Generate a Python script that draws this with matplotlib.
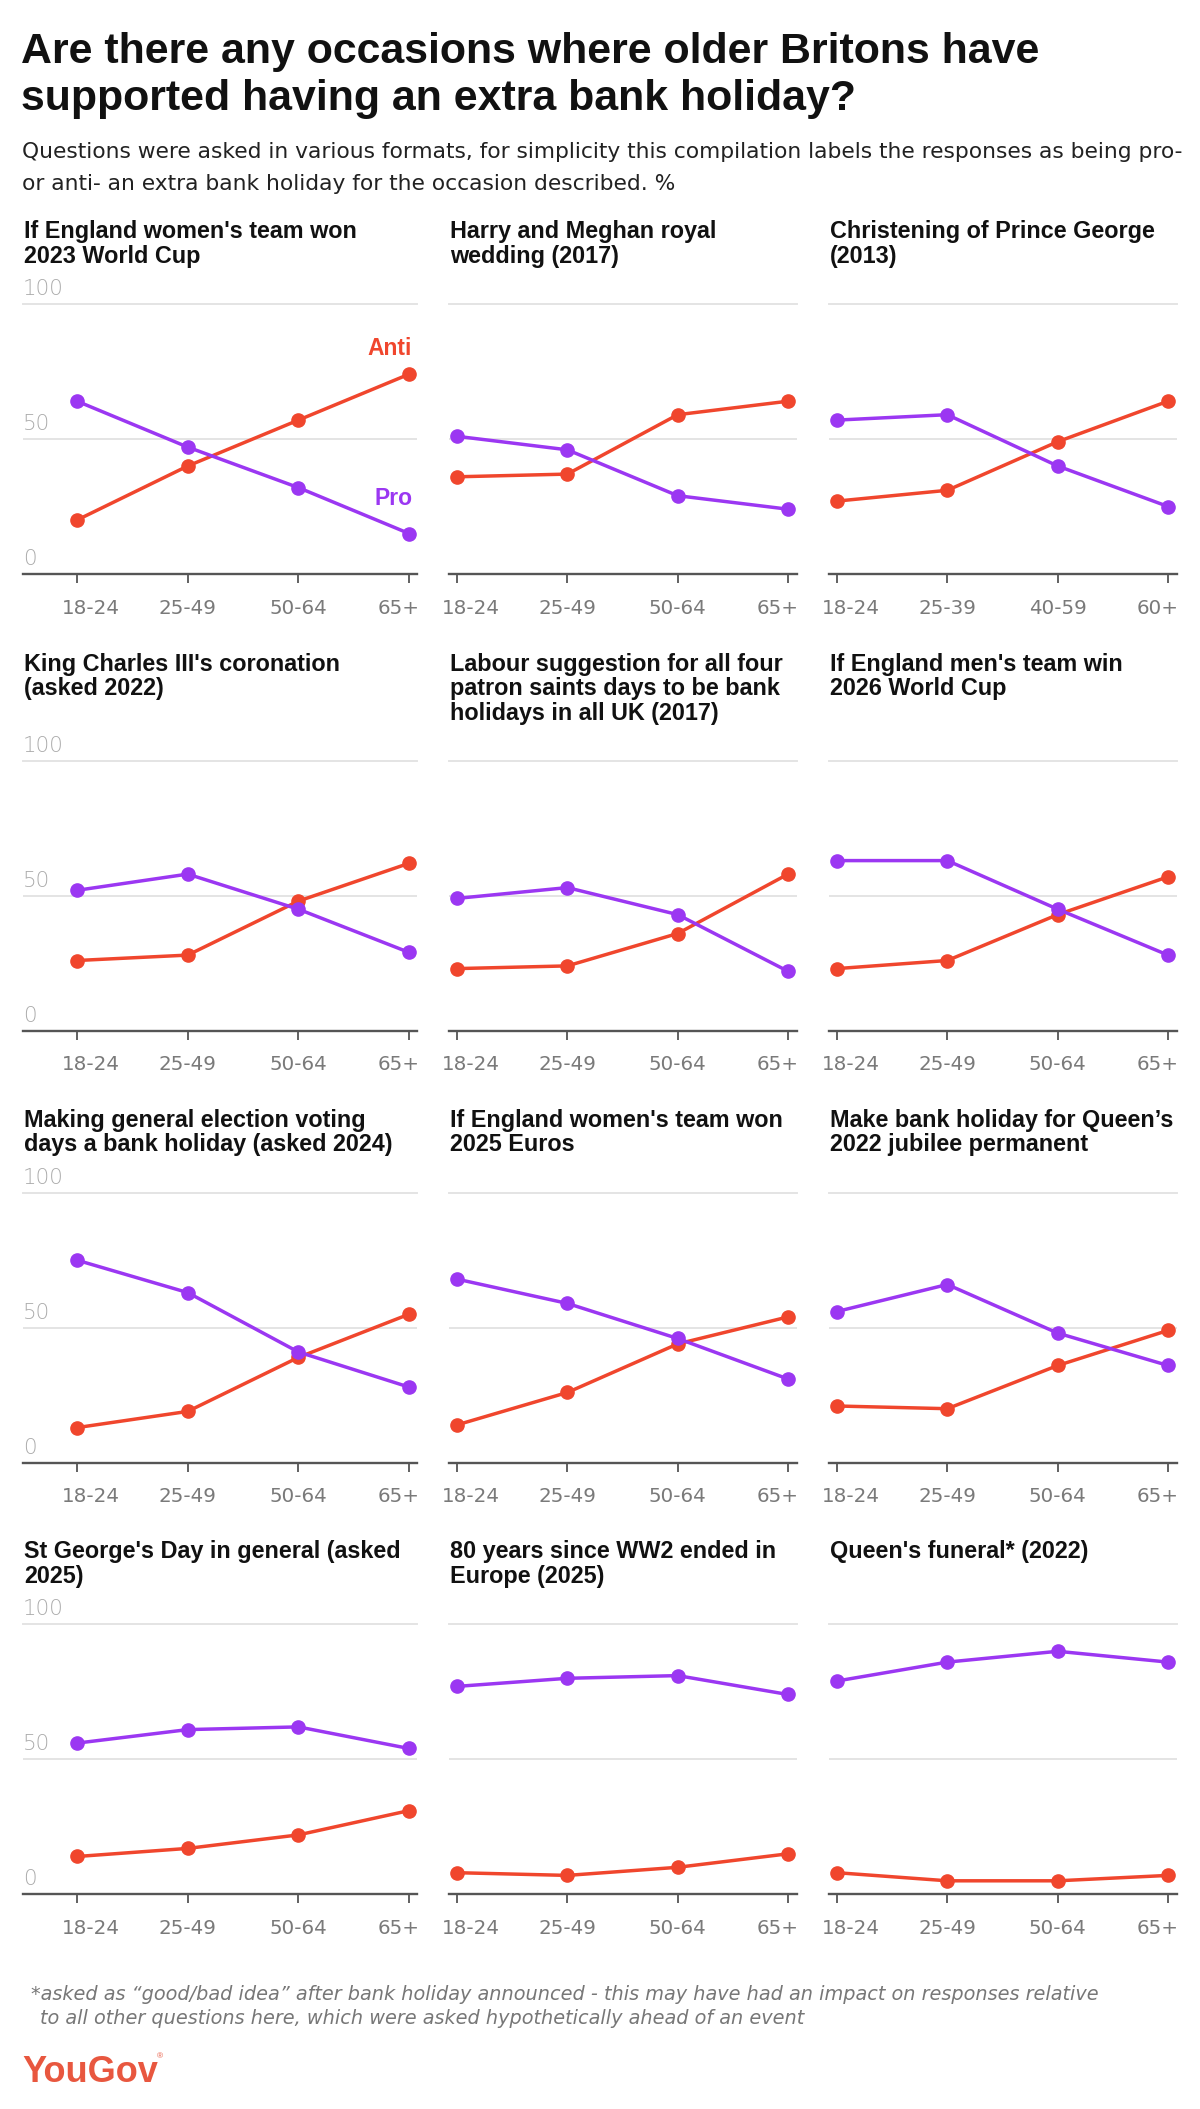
import matplotlib
matplotlib.use("Agg")
import matplotlib.pyplot as plt

W, H = 1200, 2109

panel_titles = [
    "If England women's team won\n2023 World Cup",
    "Harry and Meghan royal\nwedding (2017)",
    "Christening of Prince George\n(2013)",
    "King Charles III's coronation\n(asked 2022)",
    "Labour suggestion for all four\npatron saints days to be bank\nholidays in all UK (2017)",
    "If England men's team win\n2026 World Cup",
    "Making general election voting\ndays a bank holiday (asked 2024)",
    "If England women's team won\n2025 Euros",
    "Make bank holiday for Queen\u2019s\n2022 jubilee permanent",
    "St George's Day in general (asked\n2025)",
    "80 years since WW2 ended in\nEurope (2025)",
    "Queen's funeral* (2022)",
]
ages_default = ["18-24", "25-49", "50-64", "65+"]
ages_george = ["18-24", "25-39", "40-59", "60+"]
panel_ages = [ages_default, ages_default, ages_george] + [ages_default] * 9

pro_values = [
    [64, 47, 32, 15],
    [51, 46, 29, 24],
    [57, 59, 40, 25],
    [52, 58, 45, 29],
    [49, 53, 43, 22],
    [63, 63, 45, 28],
    [75, 63, 41, 28],
    [68, 59, 46, 31],
    [56, 66, 48, 36],
    [56, 61, 62, 54],
    [77, 80, 81, 74],
    [79, 86, 90, 86],
]
anti_values = [
    [20, 40, 57, 74],
    [36, 37, 59, 64],
    [27, 31, 49, 64],
    [26, 28, 48, 62],
    [23, 24, 36, 58],
    [23, 26, 43, 57],
    [13, 19, 39, 55],
    [14, 26, 44, 54],
    [21, 20, 36, 49],
    [14, 17, 22, 31],
    [8, 7, 10, 15],
    [8, 5, 5, 7],
]

RED = "#F0462D"
PURPLE = "#9B37F2"
GRID = "#E4E4E4"
AXIS = "#555555"
SANS = ["Liberation Sans", "DejaVu Sans"]
WIDE = ["DejaVu Sans"]

# layout in pixels
col_left = [23, 449, 829]
col_right = [417, 797, 1177]
col_xlim = [(-0.489, 3.072), (-0.072, 3.081), (-0.072, 3.081)]
grid_top = [304, 760.7, 1192.7, 1624.3]
title_base = [238.5, 670.7, 1126.7, 1558.3]
plot_h = 270
PT = 0.72  # px -> pt at 100 dpi

fig = plt.figure(figsize=(W / 100, H / 100), dpi=100)
fig.patch.set_facecolor("white")


def fy(y):
    return 1 - y / H


fig.text(21 / W, fy(63), "Are there any occasions where older Britons have",
         fontsize=30.9, weight="bold", family=SANS, color="#111111", va="baseline")
fig.text(21 / W, fy(110), "supported having an extra bank holiday?",
         fontsize=30.9, weight="bold", family=SANS, color="#111111", va="baseline")
fig.text(22 / W, fy(158), "Questions were asked in various formats, for simplicity this compilation "
         "labels the responses as being pro-",
         fontsize=15.7, family=WIDE, color="#222222", va="baseline")
fig.text(22 / W, fy(190), "or anti- an extra bank holiday for the occasion described. %",
         fontsize=15.7, family=WIDE, color="#222222", va="baseline")

for i, title in enumerate(panel_titles):
    row, col = divmod(i, 3)
    top = grid_top[row]
    ax = fig.add_axes([col_left[col] / W, fy(top + plot_h),
                       (col_right[col] - col_left[col]) / W, plot_h / H])
    ax.set_xlim(*col_xlim[col])
    ax.set_ylim(0, 100)
    for s in ("left", "right", "top"):
        ax.spines[s].set_visible(False)
    ax.spines["bottom"].set_color(AXIS)
    ax.spines["bottom"].set_linewidth(1.7)
    ax.axhline(50, color=GRID, lw=1.4, zorder=0)
    ax.axhline(100, color=GRID, lw=1.4, zorder=0, clip_on=False)
    ax.set_yticks([])
    ax.set_xticks(range(4))
    ax.set_xticklabels([])
    ax.tick_params(axis="x", length=6.5, width=1.3, color=AXIS)

    x = list(range(4))
    ax.plot(x, anti_values[i], color=RED, lw=2.5, marker="o", ms=9.5,
            clip_on=False, zorder=3)
    ax.plot(x, pro_values[i], color=PURPLE, lw=2.5, marker="o", ms=9.5,
            clip_on=False, zorder=4)

    shifts = [14, 0, 0, -10]
    for j, lab in enumerate(panel_ages[i]):
        ax.annotate(lab, xy=(j, 0), xycoords=("data", "axes fraction"),
                    xytext=(shifts[j] * PT, -34 * PT), textcoords="offset points",
                    ha="center", va="center", fontsize=14.3, color="#7a7a7a",
                    family=WIDE, annotation_clip=False)

    if col == 0:
        for v in (0, 50, 100):
            ax.annotate(str(v), xy=(0, v), xycoords=("axes fraction", "data"),
                        xytext=(0, 9 * PT), textcoords="offset points",
                        ha="left", va="baseline", fontsize=15.5, color="#ababab",
                        family=WIDE, weight="light", annotation_clip=False)

    for k, line in enumerate(title.split("\n")):
        fig.text((col_left[col] + 1) / W, fy(title_base[row] + 24.7 * k), line,
                 fontsize=16.8, weight="bold", family=SANS, color="#111111",
                 va="baseline")

    if i == 0:
        ax.annotate("Anti", xy=(3, anti_values[i][3]), xytext=(3 * PT, 26 * PT),
                    textcoords="offset points", ha="right", va="center",
                    fontsize=16.5, weight="bold", color=RED, family=SANS)
        ax.annotate("Pro", xy=(3, pro_values[i][3]), xytext=(3 * PT, 35 * PT),
                    textcoords="offset points", ha="right", va="center",
                    fontsize=16.5, weight="bold", color=PURPLE, family=SANS)

fig.text(31 / W, fy(2000), "*asked as \u201cgood/bad idea\u201d after bank holiday announced - this "
         "may have had an impact on responses relative",
         fontsize=13.9, style="italic", family=WIDE, color="#777777", va="baseline")
fig.text(40 / W, fy(2024), "to all other questions here, which were asked hypothetically "
         "ahead of an event",
         fontsize=13.9, style="italic", family=WIDE, color="#777777", va="baseline")

fig.text(22 / W, fy(2082), "YouGov", fontsize=26, weight="bold",
         family=SANS, color="#E8573F", va="baseline")
fig.text(157 / W, fy(2058), "\u00ae", fontsize=6, family=SANS, color="#E8573F",
         va="baseline")

fig.savefig("out.png", dpi=100, facecolor="white")
